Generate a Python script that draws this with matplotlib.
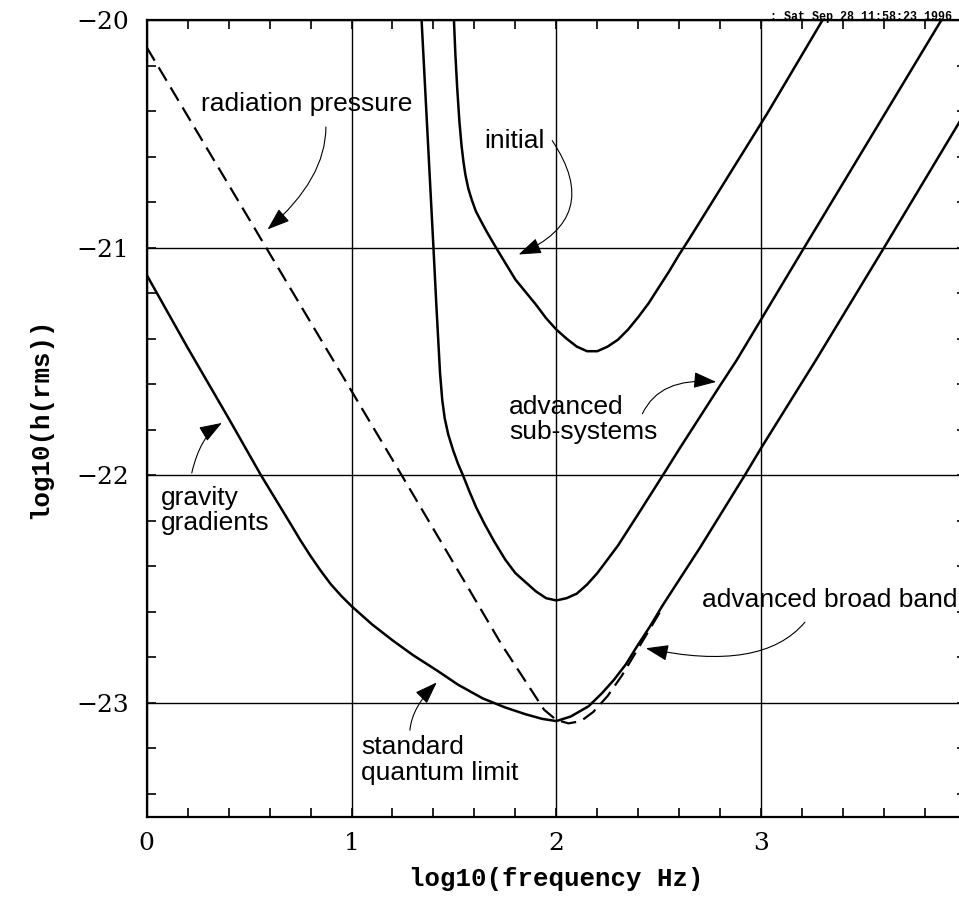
import matplotlib
matplotlib.use('Agg')
import matplotlib.pyplot as plt
from matplotlib.ticker import MultipleLocator

# values (log10 f, log10 h)
initial_x = [1.500, 1.507, 1.516, 1.527, 1.537, 1.546, 1.556, 1.570, 1.587, 1.607, 1.630, 1.660,
             1.712, 1.80, 1.90, 1.95, 2.0, 2.05, 2.10, 2.15, 2.20, 2.25, 2.30, 2.35, 2.40,
             2.45, 2.50, 2.55, 2.60, 2.65, 3.03, 3.30]
initial_y = [-20.0, -20.15, -20.30, -20.45, -20.55, -20.62, -20.68, -20.74, -20.79, -20.84, -20.88, -20.93,
             -21.01, -21.14, -21.25, -21.31, -21.36, -21.40, -21.435, -21.455, -21.455, -21.435, -21.405,
             -21.36, -21.305, -21.245, -21.175, -21.105, -21.03, -20.96, -20.41, -20.0]

subsys_x = [1.342, 1.371, 1.40, 1.414, 1.432, 1.443, 1.455, 1.472, 1.496, 1.520, 1.544, 1.575,
            1.608, 1.65, 1.696, 1.75, 1.80, 1.85, 1.90, 1.95, 2.0, 2.05, 2.10, 2.15, 2.20, 2.25,
            2.30, 2.35, 2.40, 2.46, 2.52, 2.60, 2.70, 2.80, 2.88, 3.21, 3.88]
subsys_y = [-20.0, -20.5, -21.0, -21.25, -21.55, -21.67, -21.75, -21.82, -21.89, -21.95, -22.0, -22.07,
            -22.14, -22.215, -22.29, -22.37, -22.43, -22.47, -22.51, -22.54, -22.55, -22.54, -22.52,
            -22.48, -22.43, -22.37, -22.31, -22.24, -22.17, -22.085, -22.0, -21.885, -21.745, -21.605,
            -21.495, -21.0, -20.0]

broad_x = [0.0, 0.05, 0.20, 0.40, 0.558, 0.70, 0.75, 0.80, 0.85, 0.90, 0.95, 1.0, 1.05, 1.1, 1.2,
           1.3, 1.416, 1.52, 1.64, 1.75, 1.85, 1.93, 2.0, 2.07, 2.157, 2.22, 2.28, 2.34, 2.395, 2.46,
           2.52, 2.70, 2.92, 3.0, 3.27, 3.6, 4.0]
broad_y = [-21.12, -21.20, -21.44, -21.75, -22.0, -22.21, -22.285, -22.355, -22.42, -22.48, -22.53,
           -22.575, -22.615, -22.655, -22.725, -22.79, -22.857, -22.92, -22.98, -23.02, -23.05, -23.07,
           -23.08, -23.06, -23.015, -22.96, -22.90, -22.83, -22.75, -22.66, -22.57, -22.32, -22.0,
           -21.88, -21.49, -21.0, -20.40]

radpress_x = [0.0, 0.583, 1.245, 1.606, 1.73, 1.94, 2.0, 2.06, 2.12, 2.18, 2.25, 2.32, 2.38, 2.44, 2.52]
radpress_y = [-20.12, -21.0, -22.0, -22.55, -22.74, -23.03, -23.075, -23.09, -23.08, -23.04,
              -22.97, -22.88, -22.79, -22.70, -22.58]

# labels: text, text position, arrow start, arrow tip, connection style
labels = ['radiation pressure', 'initial', 'advanced\nsub-systems', 'gravity\ngradients',
          'standard\nquantum limit', 'advanced broad band']
label_pos = [(0.265, -20.37), (1.65, -20.53), (1.77, -21.755), (0.067, -22.155),
             (1.048, -23.25), (2.71, -22.55)]
arrow_start = [(0.875, -20.47), (1.98, -20.53), (2.42, -21.73), (0.22, -21.99),
               (1.285, -23.12), (3.214, -22.645)]
arrow_tip = [(0.59, -20.92), (1.816, -21.03), (2.78, -21.59), (0.367, -21.77),
             (1.416, -22.91), (2.437, -22.76)]
arrow_conn = ['angle3,angleA=90,angleB=41', 'arc3,rad=-0.6', 'angle3,angleA=65,angleB=-5',
              'angle3,angleA=77,angleB=31', 'angle3,angleA=85,angleB=45',
              'angle3,angleA=50,angleB=-12']

fig = plt.figure(figsize=(9.59, 9.01), dpi=100)
ax = fig.add_axes([146.7 / 959, 1 - 816.7 / 901, (966 - 146.7) / 959, (816.7 - 20) / 901])

ax.plot(initial_x, initial_y, color='k', lw=1.8)
ax.plot(subsys_x, subsys_y, color='k', lw=1.8)
ax.plot(broad_x, broad_y, color='k', lw=1.8)
ax.plot(radpress_x, radpress_y, color='k', lw=1.6, dashes=(7, 3.5))

ax.set_xlim(0, 4)
ax.set_ylim(-23.5, -20)
ax.set_xticks([0, 1, 2, 3, 4], ['0', '1', '2', '3', ''])
ax.xaxis.set_minor_locator(MultipleLocator(0.2))
ax.yaxis.set_major_locator(MultipleLocator(1))
ax.yaxis.set_minor_locator(MultipleLocator(0.2))
ax.grid(True, which='major', color='k', lw=1.0)
ax.set_axisbelow(True)
ax.tick_params(which='both', direction='in', top=True, right=True, length=6.5, width=1.2)
ax.tick_params(axis='x', pad=11)
ax.tick_params(axis='y', pad=13)
for lab in ax.get_xticklabels() + ax.get_yticklabels():
    lab.set_fontfamily('DejaVu Serif')
    lab.set_fontsize(18)
for sp in ax.spines.values():
    sp.set_linewidth(1.6)

ax.set_xlabel('log10(frequency Hz)', fontfamily='Liberation Mono', fontweight='bold',
              fontsize=18.5, labelpad=9)
ax.set_ylabel('log10(h(rms))', fontfamily='Liberation Mono', fontweight='bold',
              fontsize=18.5, labelpad=17)

for txt, pos, start, tip, conn in zip(labels, label_pos, arrow_start, arrow_tip, arrow_conn):
    ax.text(pos[0], pos[1], txt, fontfamily='Liberation Sans', fontsize=19,
            ha='left', va='center', linespacing=1.1)
    ax.annotate('', xy=tip, xytext=start,
                arrowprops=dict(arrowstyle='-|>,head_length=0.7,head_width=0.25',
                                connectionstyle=conn, color='k', lw=0.8,
                                shrinkA=0, shrinkB=0, mutation_scale=20))

fig.text(770 / 959, 1 - 20 / 901, ': Sat Sep 28 11:58:23 1996', fontfamily='Liberation Mono',
         fontweight='bold', fontsize=8.4, va='baseline', ha='left')

fig.savefig('out.png', dpi=100)
